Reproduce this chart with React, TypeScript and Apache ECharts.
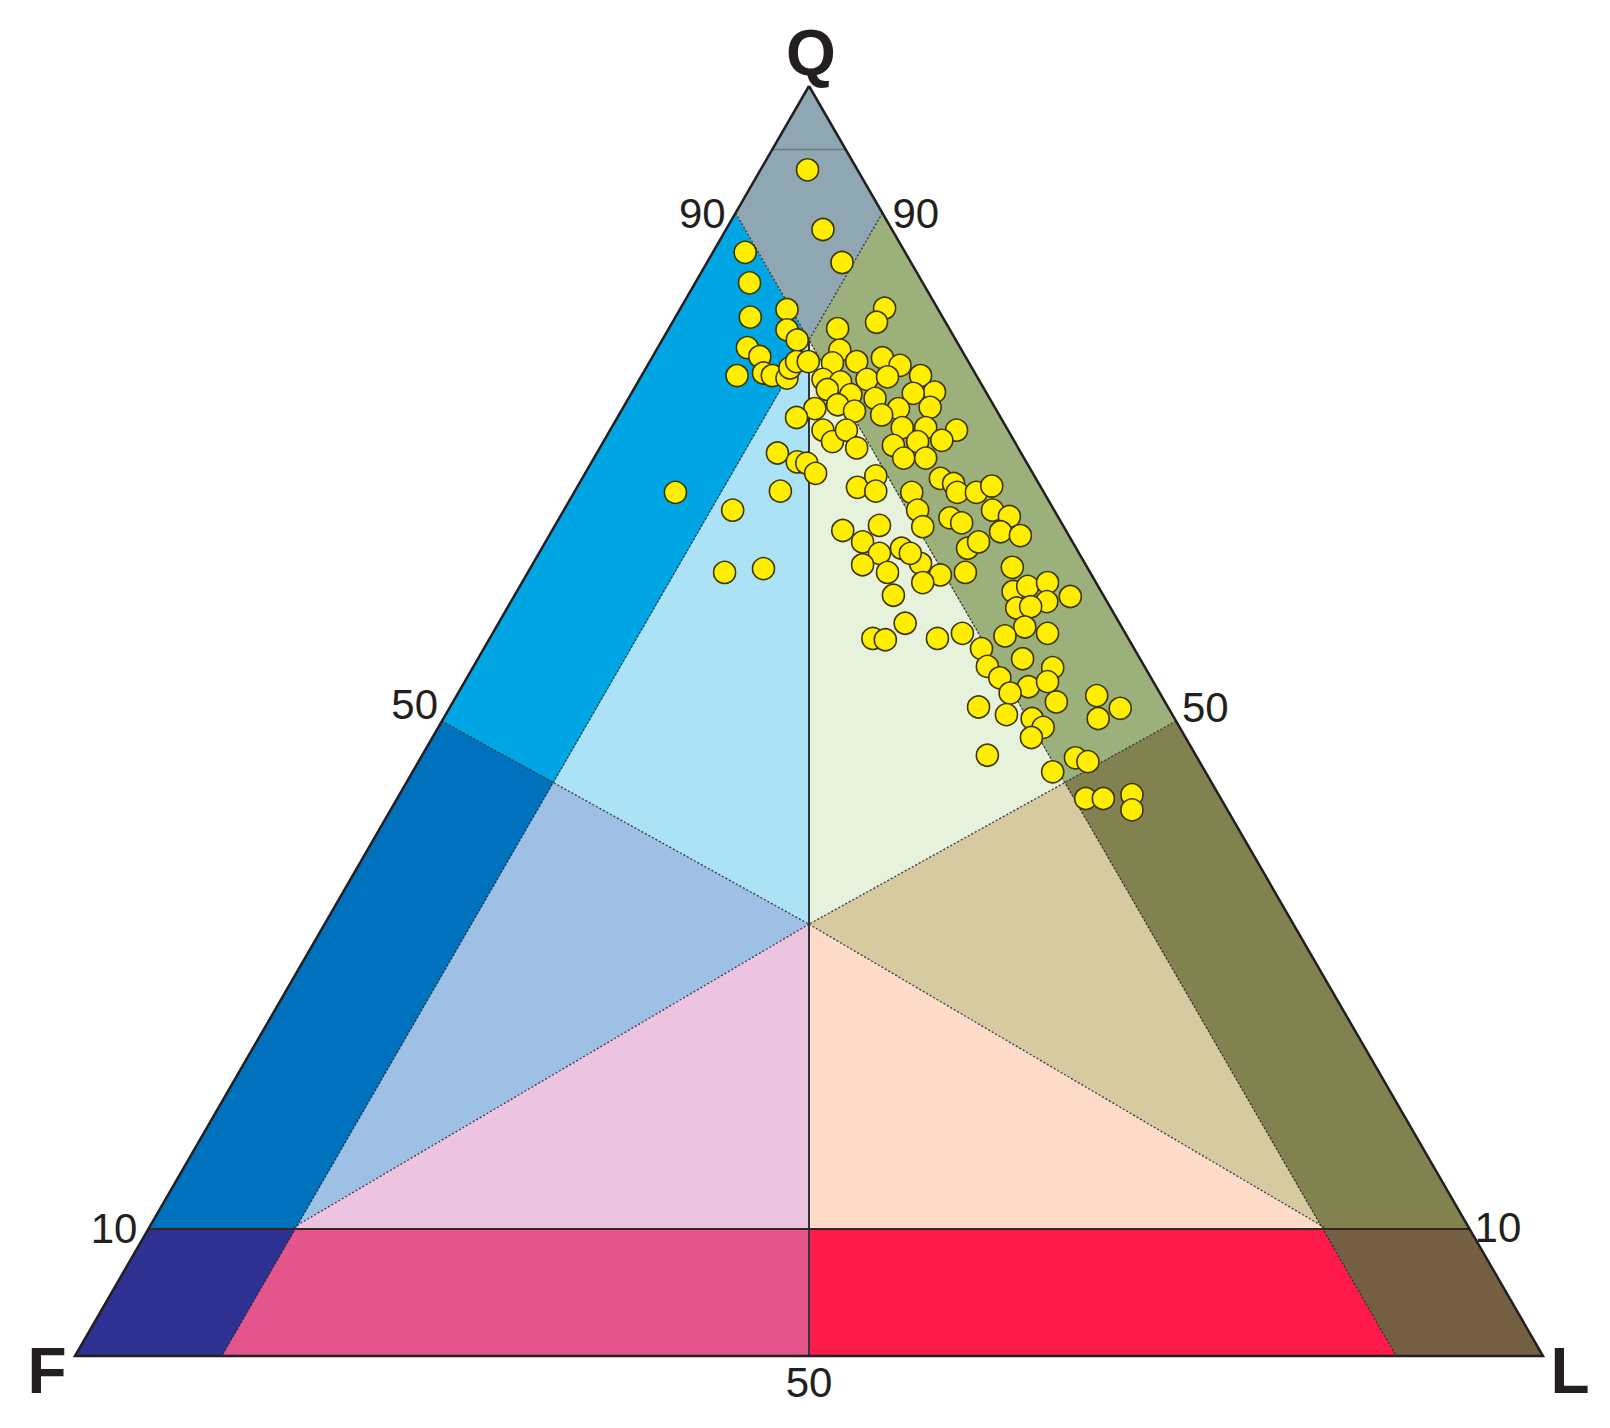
import React, { useEffect, useRef } from "react";
import * as echarts from "echarts";

// Ternary compositions are stored as [Q, F, L] percentages.
type T = [number, number, number];

// Sample compositions (Q, F, L)
const samples: T[] = [
  [93.4, 3.4, 3.2], [88.7, 4.7, 6.6], [86.1, 4.7, 9.2], [86.9, 10.9, 2.2], [84.5, 11.8, 3.7],
  [81.8, 13.1, 5.1], [82.4, 10.3, 7.3], [80.8, 11.1, 8.1], [82.5, 3.6, 13.9], [81.4, 4.7, 13.9],
  [80.9, 7.6, 11.5], [80.0, 10.8, 9.2], [79.4, 14.5, 6.1], [78.7, 14.0, 7.3], [77.2, 16.3, 6.5],
  [77.4, 14.4, 8.2], [77.2, 13.9, 8.9], [77.0, 13.0, 10.0], [77.8, 12.4, 9.8], [78.3, 11.7, 10.0],
  [78.3, 10.9, 10.8], [79.2, 8.3, 12.5], [78.2, 9.3, 12.5], [78.3, 7.6, 14.1], [76.9, 10.6, 12.5],
  [76.7, 9.5, 13.8], [75.7, 9.3, 15.0], [76.1, 10.7, 13.2], [74.6, 12.3, 13.1], [73.9, 13.9, 12.2],
  [74.9, 10.6, 14.5], [74.4, 9.7, 15.9], [72.9, 12.6, 14.5], [72.0, 12.4, 15.6], [72.9, 11.0, 16.1],
  [71.5, 11.0, 17.5], [71.1, 16.6, 12.3], [70.4, 15.6, 14.0], [70.3, 15.0, 14.7], [69.5, 14.8, 15.7],
  [68.1, 17.9, 14.0], [68.4, 12.5, 19.1], [78.6, 5.7, 15.7], [78.0, 4.8, 17.2], [76.9, 7.6, 15.5],
  [77.1, 6.1, 16.8], [77.2, 3.8, 19.0], [75.9, 3.5, 20.6], [75.8, 5.0, 19.2], [75.4, 7.8, 16.8],
  [74.6, 6.6, 18.8], [74.7, 4.4, 20.9], [74.1, 8.0, 17.9], [73.1, 7.1, 19.8], [73.1, 5.5, 21.4],
  [72.9, 3.5, 23.6], [72.1, 4.9, 23.0], [71.7, 8.4, 19.9], [72.0, 6.6, 21.4], [70.7, 8.2, 21.1],
  [70.7, 6.7, 22.6], [69.3, 10.8, 19.9], [69.1, 6.5, 24.4], [68.7, 5.8, 25.5], [68.1, 11.4, 20.5],
  [68.0, 9.0, 23.0], [68.0, 5.9, 26.1], [68.0, 4.6, 27.4], [68.5, 3.3, 28.2], [68.0, 25.1, 6.9],
  [66.6, 21.9, 11.5], [65.0, 15.2, 19.8], [61.7, 24.9, 13.4], [62.0, 22.1, 15.9], [65.4, 12.5, 22.1],
  [64.1, 14.3, 21.6], [66.6, 9.3, 24.1], [65.3, 9.6, 25.1], [66.0, 7.4, 26.6], [65.6, 6.8, 27.6],
  [66.6, 4.2, 29.2], [66.1, 3.3, 30.6], [64.9, 4.5, 30.6], [64.6, 3.3, 32.1], [63.6, 11.9, 24.5],
  [63.2, 13.6, 23.2], [62.3, 15.2, 22.5], [61.7, 13.8, 24.5], [62.4, 11.2, 26.4], [63.2, 11.5, 25.3],
  [61.5, 10.3, 28.2], [60.9, 11.8, 27.3], [63.6, 7.4, 29.0], [64.1, 6.4, 29.5], [61.7, 8.5, 29.8],
  [59.9, 14.3, 25.8], [62.1, 5.1, 32.8], [60.2, 6.0, 33.8], [60.6, 4.8, 34.6], [60.9, 3.3, 35.8],
  [59.8, 2.3, 37.9], [58.9, 6.4, 34.7], [59.4, 4.1, 36.5], [59.0, 5.4, 35.6], [57.4, 6.6, 36.0],
  [56.9, 5.3, 37.8], [56.7, 8.3, 35.0], [57.7, 14.6, 27.7], [56.5, 17.4, 26.1], [56.4, 16.6, 27.0],
  [56.5, 13.0, 30.5], [56.9, 11.1, 32.0], [55.7, 10.4, 33.9], [54.9, 8.0, 37.1], [54.3, 10.7, 35.0],
  [53.4, 10.3, 36.3], [54.2, 6.3, 39.5], [52.7, 8.7, 38.6], [53.1, 7.2, 39.7], [52.2, 10.2, 37.6],
  [51.5, 7.4, 41.1], [51.1, 12.9, 36.0], [50.5, 11.3, 38.2], [50.2, 9.7, 40.1], [49.5, 9.3, 41.2],
  [48.7, 10.5, 40.8], [52.0, 4.4, 43.6], [51.0, 3.3, 45.7], [50.2, 5.2, 44.6], [47.3, 14.2, 38.5],
  [47.1, 8.3, 44.6], [46.8, 7.6, 45.6], [46.0, 10.4, 43.6], [43.9, 9.2, 46.9], [43.9, 8.0, 48.1],
  [44.2, 5.9, 49.9], [43.0, 6.5, 50.5],
];

// Key ternary points of the classification fields [Q, F, L]
const Qv: T = [100, 0, 0];
const Fv: T = [0, 100, 0];
const Lv: T = [0, 0, 100];
const CENTER: T = [34, 33, 33];
const QF50: T = [50, 50, 0];
const QL50: T = [50, 0, 50];
const FL50: T = [0, 50, 50];
const Q90F: T = [90, 10, 0];
const Q90L: T = [90, 0, 10];
const QTOP: T = [80, 10, 10];
const L10BASE: T = [0, 90, 10];
const F10BASE: T = [0, 10, 90];
const X1: T = [45.2, 44.8, 10];
const X2: T = [45.2, 10, 44.8];
const Q10F: T = [10, 90, 0];
const Q10L: T = [10, 0, 90];
const Q10MID: T = [10, 45, 45];
const Q10FL: T = [10, 80, 10];
const Q10LF: T = [10, 10, 80];
const MF10: T = [10, 80.3, 9.7];
const ML10: T = [10, 9.7, 80.3];
const Q95F: T = [95, 5, 0];
const Q95L: T = [95, 0, 5];

// Field polygons (drawn in this order)
const fieldNames = [
  "qfl", "qlf", "fql", "flq", "lfq", "lqf",
  "bandL_low", "bandL_up", "bandF_low", "bandF_up", "quartz",
  "bandQ_f", "bandQ_l", "cornerF", "cornerL",
];
const fieldVerts: T[][] = [
  [Qv, QF50, CENTER],
  [Qv, QL50, CENTER],
  [Fv, QF50, CENTER],
  [Fv, CENTER, FL50],
  [Lv, CENTER, FL50],
  [Lv, QL50, CENTER],
  [Fv, Qv, Q90L, L10BASE],
  [QF50, Qv, Q90L, X1],
  [Lv, Qv, Q90F, F10BASE],
  [QL50, Qv, Q90F, X2],
  [Qv, Q90F, QTOP, Q90L],
  [Fv, Lv, Q10L, Q10F],
  [FL50, Lv, Q10L, Q10MID],
  [Fv, L10BASE, Q10FL, Q10F],
  [Lv, F10BASE, Q10LF, Q10L],
];

// Boundary lines
const lineNames = ["mlUp", "mlLow", "mfUp", "mfLow", "l10", "f10", "vertical", "q95", "q10", "frame"];
const linePts: T[][] = [
  [QF50, CENTER],
  [CENTER, ML10],
  [QL50, CENTER],
  [CENTER, MF10],
  [Q90L, L10BASE],
  [Q90F, F10BASE],
  [QTOP, FL50],
  [Q95F, Q95L],
  [Q10F, Q10L],
  [Qv, Fv, Lv, Qv],
];

// Axis tick labels and apex labels
const labelTexts = ["90", "90", "50", "50", "10", "10", "50", "Q", "F", "L"];
const labelAnchors: T[] = [Q90F, Q90L, QF50, QL50, Q10F, Q10L, FL50, Qv, Fv, Lv];

const fieldColors: Record<string, string> = {
  qfl: "#abe2f6",
  qlf: "#e6f2dc",
  fql: "#9dc0e4",
  flq: "#edc4df",
  lfq: "#fedcc9",
  lqf: "#d8caa0",
  bandL_low: "#0071bc",
  bandL_up: "#00a5e3",
  bandF_low: "#828251",
  bandF_up: "#9cb07c",
  quartz: "#8fa6b3",
  bandQ_f: "#e4568b",
  bandQ_l: "#ff1a4c",
  cornerF: "#2e3192",
  cornerL: "#755f43",
};

const lineStyles: Record<string, { stroke: string; lineWidth: number; lineDash?: number[] }> = {
  mlUp: { stroke: "#3a3a4a", lineWidth: 1.3, lineDash: [2, 2] },
  mlLow: { stroke: "#3a3a4a", lineWidth: 1.3, lineDash: [2, 2] },
  mfUp: { stroke: "#3a3a4a", lineWidth: 1.3, lineDash: [2, 2] },
  mfLow: { stroke: "#3a3a4a", lineWidth: 1.3, lineDash: [2, 2] },
  l10: { stroke: "#2a2a3a", lineWidth: 1.2, lineDash: [2, 2] },
  f10: { stroke: "#2a2a3a", lineWidth: 1.2, lineDash: [2, 2] },
  vertical: { stroke: "#333333", lineWidth: 2 },
  q95: { stroke: "#667c88", lineWidth: 1.5 },
  q10: { stroke: "#3b2222", lineWidth: 2 },
  frame: { stroke: "#231f20", lineWidth: 2.5 },
};

// label placement (pixel offsets from anchor) and fonts
const labelLayout: { dx: number; dy: number; align: string; size: number; bold: boolean }[] = [
  { dx: -10, dy: 0, align: "right", size: 42, bold: false },
  { dx: 10, dy: 0, align: "left", size: 42, bold: false },
  { dx: -4, dy: -17, align: "right", size: 42, bold: false },
  { dx: 6, dy: -14, align: "left", size: 42, bold: false },
  { dx: -11, dy: -1, align: "right", size: 42, bold: false },
  { dx: 5, dy: -2, align: "left", size: 42, bold: false },
  { dx: 0, dy: 26, align: "center", size: 42, bold: false },
  { dx: 2, dy: -33, align: "center", size: 64, bold: true },
  { dx: -28, dy: 15, align: "center", size: 64, bold: true },
  { dx: 27, dy: 15, align: "center", size: 64, bold: true },
];

const toXY = (t: T): [number, number] => [t[2] + t[0] / 2, t[0]];

export default function App() {
  const ref = useRef<HTMLDivElement>(null);

  useEffect(() => {
    if (!ref.current) return;
    const chart = echarts.init(ref.current, undefined, { renderer: "svg" });

    const option: any = {
      animation: false,
      backgroundColor: "#ffffff",
      grid: { left: 75, top: 86, width: 1468, height: 1270, containLabel: false },
      xAxis: { type: "value", min: 0, max: 100, show: false, splitLine: { show: false } },
      yAxis: { type: "value", min: 0, max: 100, show: false, splitLine: { show: false } },
      series: [
        {
          type: "custom",
          z: 1,
          silent: true,
          data: fieldNames.map((_, i) => [i, 0]),
          renderItem: (params: any, api: any) => {
            const i = params.dataIndex;
            return {
              type: "polygon",
              shape: { points: fieldVerts[i].map((v) => api.coord(toXY(v))) },
              style: { fill: fieldColors[fieldNames[i]], stroke: fieldColors[fieldNames[i]], lineWidth: 0.5 },
            };
          },
        },
        {
          type: "custom",
          z: 2,
          silent: true,
          data: lineNames.map((_, i) => [i, 0]),
          renderItem: (params: any, api: any) => {
            const i = params.dataIndex;
            const s = lineStyles[lineNames[i]];
            return {
              type: "polyline",
              shape: { points: linePts[i].map((v) => api.coord(toXY(v))) },
              style: { stroke: s.stroke, lineWidth: s.lineWidth, lineDash: s.lineDash || null, fill: null, lineJoin: "miter" },
            };
          },
        },
        {
          type: "scatter",
          z: 3,
          symbol: "circle",
          symbolSize: 22,
          data: samples.map((s) => toXY(s)),
          itemStyle: { color: "#ffee00", borderColor: "#3d3500", borderWidth: 1.6, opacity: 1 },
        },
        {
          type: "custom",
          z: 4,
          silent: true,
          data: labelTexts.map((_, i) => [i, 0]),
          renderItem: (params: any, api: any) => {
            const i = params.dataIndex;
            const p = api.coord(toXY(labelAnchors[i]));
            const l = labelLayout[i];
            return {
              type: "text",
              x: p[0] + l.dx,
              y: p[1] + l.dy,
              style: {
                text: labelTexts[i],
                fill: "#231f20",
                fontSize: l.size,
                fontWeight: l.bold ? "bold" : "normal",
                fontFamily: "'Liberation Sans', Arial, sans-serif",
                align: l.align,
                verticalAlign: "middle",
              },
            };
          },
        },
      ],
    };

    chart.setOption(option);
    return () => chart.dispose();
  }, []);

  return (
    <div
      ref={ref}
      style={{ position: "absolute", left: 0, top: 0, width: 1610, height: 1428, background: "#ffffff" }}
    />
  );
}
